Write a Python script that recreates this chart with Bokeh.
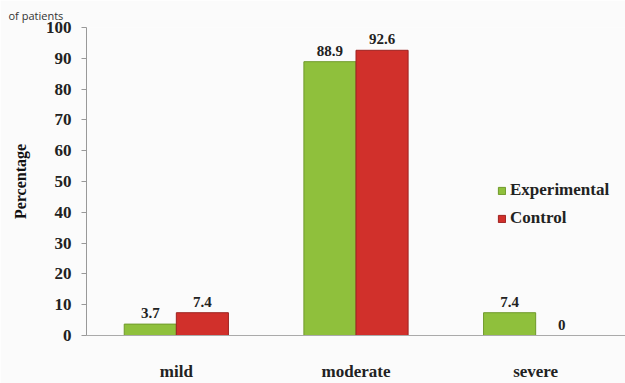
from bokeh.plotting import figure
from bokeh.models import ColumnDataSource, FactorRange, Range1d, LabelSet, Legend, LegendItem
from bokeh.transform import dodge
from bokeh.embed import file_html
from bokeh.resources import INLINE

categories = ["mild", "moderate", "severe"]
experimental = [3.7, 88.9, 7.4]
control = [7.4, 92.6, 0]
exp_labels = ["3.7", "88.9", "7.4"]
ctl_labels = ["7.4", "92.6", "0"]
y_ticks = [0, 10, 20, 30, 40, 50, 60, 70, 80, 90, 100]

GREEN = "#8fc03c"
RED = "#d1302b"
FONT = "'Liberation Serif', 'Times New Roman', serif"
BG = "#fbfbfb"

src = ColumnDataSource(dict(cat=categories, exp=experimental, ctl=control,
                            exp_lab=exp_labels, ctl_lab=ctl_labels))

p = figure(width=625, height=383, x_range=FactorRange(*categories), y_range=Range1d(0, 100),
           output_backend="svg", toolbar_location=None,
           min_border_left=86, min_border_right=0, min_border_top=27, min_border_bottom=43)
p.x_range.range_padding = 0
p.background_fill_color = BG
p.border_fill_color = BG
p.outline_line_color = None
p.xgrid.grid_line_color = None
p.ygrid.grid_line_color = None

# caption fragment at the very top
p.title.text = "of patients"
p.title.text_font = "Open Sans"
p.title.text_font_style = "normal"
p.title.text_font_size = "11px"
p.title.text_color = "#333333"
p.title.offset = -78
p.title.standoff = 9

w = 0.29
g = p.vbar(x=dodge("cat", -0.145, range=p.x_range), top="exp", width=w, source=src,
           fill_color=GREEN, line_color="#6f9a2a", line_width=1)
r = p.vbar(x=dodge("cat", 0.145, range=p.x_range), top="ctl", width=w, source=src,
           fill_color=RED, line_color="#9e2220", line_width=1)

lab_kw = dict(text_font=FONT, text_font_style="bold", text_font_size="15px",
              text_align="center", text_baseline="bottom", text_color="#222222", y_offset=6)
p.add_layout(LabelSet(x=dodge("cat", -0.145, range=p.x_range), y="exp", text="exp_lab", source=src, **lab_kw))
p.add_layout(LabelSet(x=dodge("cat", 0.145, range=p.x_range), y="ctl", text="ctl_lab", source=src, **lab_kw))

# y axis
p.yaxis.ticker = y_ticks
p.yaxis.axis_label = "Percentage"
p.yaxis.axis_label_text_font = FONT
p.yaxis.axis_label_text_font_style = "bold"
p.yaxis.axis_label_text_font_size = "16px"
p.yaxis.axis_label_text_color = "#111111"
p.yaxis.axis_label_standoff = 14
p.yaxis.major_label_text_font = FONT
p.yaxis.major_label_text_font_style = "bold"
p.yaxis.major_label_text_font_size = "17px"
p.yaxis.major_label_text_color = "#222222"
p.yaxis.axis_line_color = "#999999"
p.yaxis.major_tick_line_color = "#999999"
p.yaxis.major_tick_out = 5
p.yaxis.major_tick_in = 0
p.yaxis.minor_tick_line_color = None
p.yaxis.major_label_standoff = 10

# x axis
p.xaxis.axis_line_color = "#aaaaaa"
p.xaxis.major_tick_line_color = None
p.xaxis.minor_tick_line_color = None
p.xaxis.major_label_text_font = FONT
p.xaxis.major_label_text_font_style = "bold"
p.xaxis.major_label_text_font_size = "17px"
p.xaxis.major_label_text_color = "#222222"
p.xaxis.major_label_standoff = 20

legend = Legend(items=[LegendItem(label="Experimental", renderers=[g]),
                       LegendItem(label="Control", renderers=[r])],
                location=(411, 107))
legend.label_text_font = FONT
legend.label_text_font_style = "bold"
legend.label_text_font_size = "17px"
legend.label_text_color = "#222222"
legend.glyph_width = 9
legend.glyph_height = 9
legend.label_standoff = 4
legend.spacing = 8
legend.padding = 0
legend.margin = 0
legend.label_height = 20
legend.border_line_color = None
legend.background_fill_alpha = 0
p.add_layout(legend)

open("out.html", "w").write(file_html(p, INLINE))
